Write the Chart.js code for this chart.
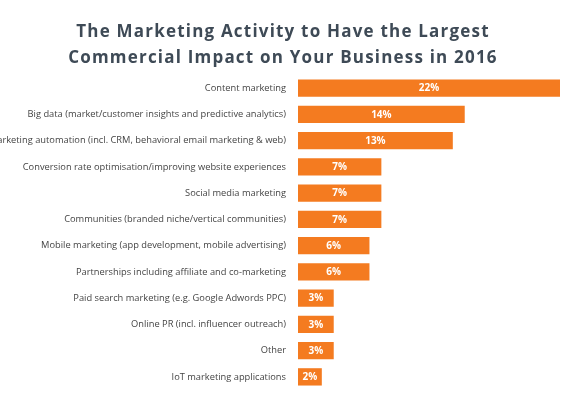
<!DOCTYPE html>
<html><head><script src="https://cdn.jsdelivr.net/npm/chart.js@4"></script>
<style>body{margin:0;background:#fff}#w{width:564px;height:408px}</style></head>
<body><div id="w"><canvas id="c"></canvas></div>
<script>
const titleLines=['The Marketing Activity to Have the Largest','Commercial Impact on Your Business in 2016'];
const categories=["Content marketing","Big data (market/customer insights and predictive analytics)","Marketing automation (incl. CRM, behavioral email marketing & web)","Conversion rate optimisation/improving website experiences","Social media marketing","Communities (branded niche/vertical communities)","Mobile marketing (app development, mobile advertising)","Partnerships including affiliate and co-marketing","Paid search marketing (e.g. Google Adwords PPC)","Online PR (incl. influencer outreach)","Other","IoT marketing applications"];
const values=[22,14,13,7,7,7,6,6,3,3,3,2];
const lbl={id:'lbl',afterDatasetsDraw(ch){const c=ch.ctx;c.save();c.fillStyle='#fff';c.font='bold 10px "Open Sans"';c.textAlign='center';c.textBaseline='middle';
ch.getDatasetMeta(0).data.forEach((b,i)=>{c.fillText(values[i]+'%',(b.base+b.x)/2,b.y+0.5);});
c.fillStyle='#3e4a56';c.font='bold 17px "Open Sans"';c.letterSpacing='1.2px';
titleLines.forEach((t,i)=>c.fillText(t,ch.width/2+1,32+i*26));c.restore();}};
new Chart(document.getElementById('c'),{type:'bar',data:{labels:categories,datasets:[{data:values,backgroundColor:'#f47b20',barPercentage:0.66,categoryPercentage:1}]},
options:{indexAxis:'y',responsive:true,maintainAspectRatio:false,animation:false,
layout:{padding:{top:75,right:4,bottom:18,left:0}},
plugins:{legend:{display:false},tooltip:{enabled:false}},
scales:{x:{display:false,min:0,max:22},y:{grid:{display:false},border:{display:false},afterFit(a){a.width=298;},ticks:{color:'#444',font:{family:'"Open Sans"',size:9.3},padding:4}}}},plugins:[lbl]});
</script></body></html>
